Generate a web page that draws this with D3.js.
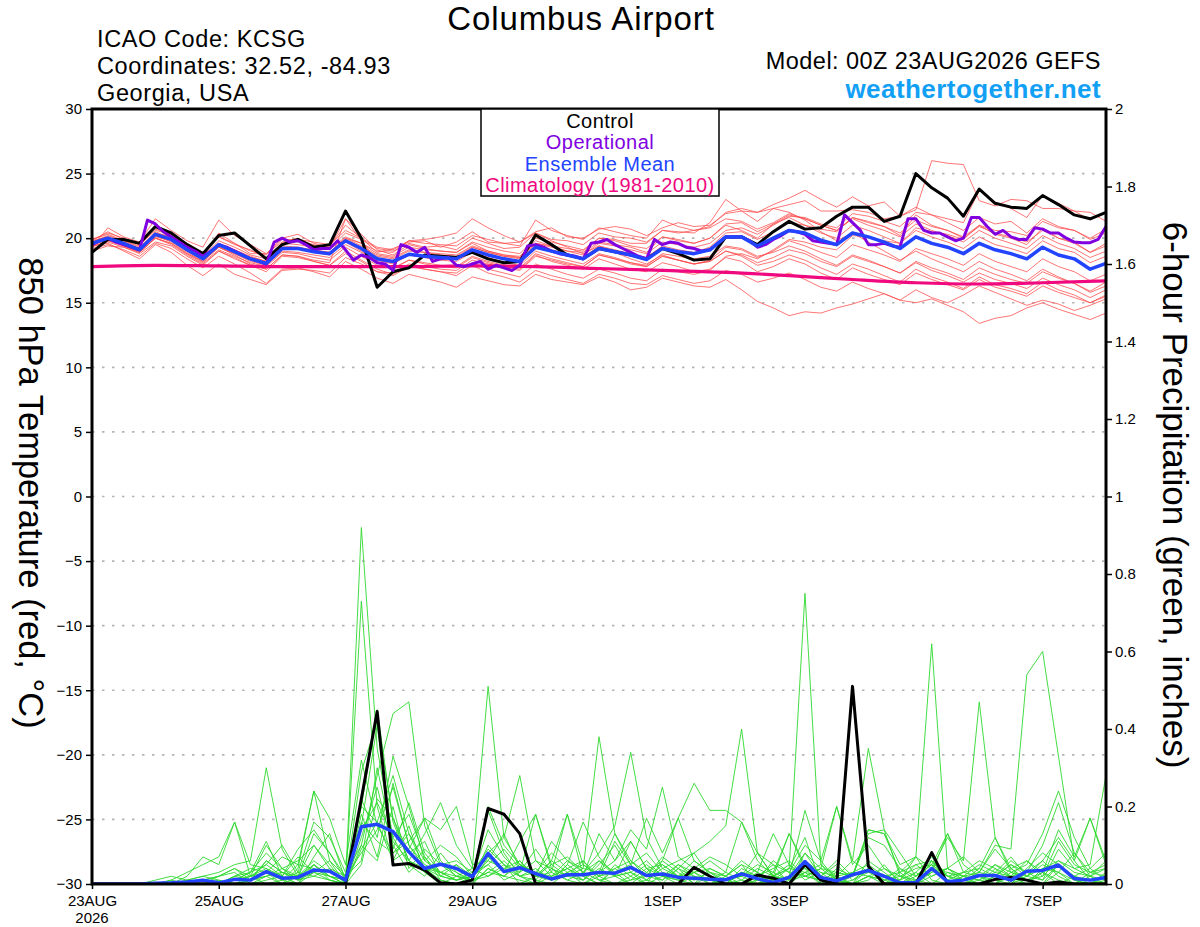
<!DOCTYPE html>
<html>
<head>
<meta charset="utf-8">
<script src="https://cdn.jsdelivr.net/npm/d3@7"></script>
<style>
  html, body { margin: 0; padding: 0; background: #fff; }
  svg { display: block; font-family: "Liberation Sans", Arial, Helvetica, sans-serif; }
</style>
</head>
<body>
<svg id="chart" width="1200" height="927"></svg>
<script>
// ---------------- DATA ----------------
const startDate = Date.UTC(2026, 7, 23); // 00Z 23AUG2026
const tempTicks = [-30, -25, -20, -15, -10, -5, 0, 5, 10, 15, 20, 25, 30];
const precipTicks = [0, 0.2, 0.4, 0.6, 0.8, 1, 1.2, 1.4, 1.6, 1.8, 2];
const dateTickDays = [0, 2, 4, 6, 9, 11, 13, 15];
const dateTickLabels = ["23AUG", "25AUG", "27AUG", "29AUG", "1SEP", "3SEP", "5SEP", "7SEP"];
const legendLabels = ["Control", "Operational", "Ensemble Mean", "Climatology (1981-2010)"];

// 850 hPa temperature, ensemble members (6-hourly, 65 steps)
const tMem01 = [19.8,20.5,19.9,19.5,20.9,20.2,19.6,18.6, 20.4,19.6,18.8,18.8,19.7,20.0,19.4,19.4, 21.0,20.0,18.9,19.2,19.7,19.8,19.3,19.7, 20.5,19.7,19.6,19.7,20.5,20.8,20.1,20.0, 20.7,20.9,20.7,20.2,20.8,21.2,20.9,21.0, 21.9,22.1,22.0,22.3,22.6,22.9,22.1,22.1, 22.2,22.0,21.5,21.7,22.2,26.0,25.8,25.7, 22.9,22.5,23.0,22.9,22.3,22.3,22.1,22.0,21.3];
const tMem02 = [19.9,20.3,19.8,19.4,20.7,20.3,19.5,18.9, 20.1,19.5,19.1,18.5,19.6,19.8,19.5,19.2, 20.4,19.9,19.2,19.0,19.6,19.3,19.4,19.1, 20.0,19.6,19.2,19.3,20.4,19.9,19.8,19.5, 20.4,20.1,20.0,19.7,20.6,20.4,20.6,20.9, 22.0,22.3,22.0,22.6,23.1,23.7,23.0,22.4, 23.2,22.5,22.8,21.7,22.4,21.8,21.2,20.6, 21.6,21.1,21.3,20.4,21.5,20.9,20.6,19.9,20.4];
const tMem03 = [19.3,20.8,20.1,19.7,21.5,20.6,19.8,19.3, 21.4,20.2,19.5,18.8,20.0,20.3,19.6,19.3, 21.5,20.3,19.1,18.7,19.5,19.2,19.0,18.9, 19.6,19.0,18.7,18.6,19.8,19.4,19.0,18.9, 19.7,19.5,19.3,18.9,20.1,19.8,19.6,20.0, 21.0,20.6,20.0,21.1,21.6,21.0,20.7,20.5, 21.6,21.2,20.9,20.2,21.8,21.0,20.6,20.1, 21.0,20.3,20.0,19.5,20.8,20.0,19.6,18.9,19.6];
const tMem04 = [19.2,19.5,19.1,18.6,19.6,19.2,18.4,17.7, 18.6,18.0,17.3,16.5,17.6,17.7,17.4,17.0, 18.2,17.6,16.9,16.5,17.2,16.9,16.6,16.2, 17.0,16.7,16.4,16.3,17.2,16.8,16.6,16.4, 17.0,16.6,16.0,16.2,16.9,16.6,16.3,16.2, 16.8,16.0,15.1,14.6,14.0,14.3,14.2,14.6, 14.9,15.3,15.7,15.2,15.0,15.3,14.8,14.3, 13.4,13.8,14.0,14.6,15.0,14.5,14.1,13.7,14.2];
const tMem05 = [19.0,19.4,19.3,18.8,19.7,19.4,18.6,17.9, 19.0,18.4,17.9,17.4,18.6,18.5,18.2,17.9, 19.0,18.3,17.6,17.2,17.9,17.6,17.4,17.1, 17.9,17.3,17.0,16.6,17.5,17.1,16.8,16.5, 17.2,16.9,16.5,16.4,17.1,16.8,16.5,16.7, 17.5,17.2,16.6,16.9,17.3,16.8,16.2,15.9, 16.6,16.1,15.7,15.2,16.0,15.4,15.0,15.6, 16.3,15.8,15.3,14.8,15.2,14.9,14.4,14.8,15.3];
const tMem06 = [19.4,19.7,19.3,18.9,20.0,19.6,18.8,18.1, 19.1,18.6,18.1,17.8,18.9,18.8,18.5,18.3, 19.3,18.6,17.9,17.7,18.3,18.0,17.8,17.7, 18.5,18.1,17.8,17.6,18.7,18.2,17.9,17.6, 18.4,18.0,17.6,17.4,18.1,17.8,17.4,17.6, 18.5,18.2,17.4,17.8,18.4,18.0,17.3,16.8, 17.7,17.2,16.8,16.4,17.3,16.8,16.4,16.0, 16.8,16.2,15.9,15.5,16.3,15.8,15.4,15.0,15.6];
const tMem07 = [19.7,20.2,19.8,19.3,20.4,20.1,19.3,18.6, 19.8,19.3,18.7,18.4,19.6,19.5,19.3,19.1, 20.1,19.6,18.8,18.6,19.3,19.1,19.0,18.9, 19.7,19.3,19.0,18.8,20.0,19.7,19.4,19.1, 20.0,19.8,19.4,19.2,20.1,19.9,19.6,20.0, 21.1,21.2,20.5,21.1,21.8,21.5,21.0,20.6, 21.6,21.3,20.9,20.4,21.4,20.9,20.6,20.0, 20.9,20.4,20.1,19.7,20.6,20.0,19.7,18.9,19.4];
const tMem08 = [19.8,20.1,19.5,19.0,20.1,19.8,19.0,18.3, 19.3,18.8,18.2,17.9,19.0,18.9,18.7,18.5, 19.5,18.9,18.3,18.0,18.7,18.5,18.4,18.4, 19.3,18.9,18.6,18.5,19.6,19.4,19.2,19.0, 20.0,19.9,19.6,19.6,20.6,20.5,20.4,21.2, 23.0,22.1,21.3,22.3,22.0,21.4,20.5,19.8, 20.4,19.7,19.0,18.3,19.0,18.4,17.9,17.4, 18.2,17.6,17.2,16.7,17.6,17.0,16.5,15.8,16.3];
const tMem09 = [19.5,19.8,19.4,19.0,20.2,19.7,18.9,18.2, 19.3,18.7,18.0,17.6,18.7,18.6,18.2,17.9, 18.8,18.2,17.4,17.1,17.8,17.6,17.4,17.3, 18.1,17.6,17.3,17.0,18.0,17.6,17.2,16.9, 17.6,17.3,16.9,16.7,17.6,17.4,17.2,17.5, 18.6,18.8,18.4,19.1,19.9,19.7,19.3,19.1, 20.2,20.1,19.8,19.6,20.8,20.5,20.3,19.9, 21.0,20.6,20.5,20.2,21.3,20.8,20.6,20.0,20.7];
const tMem10 = [19.6,20.1,19.7,19.2,20.5,20.0,19.3,18.5, 19.6,19.1,18.6,18.2,19.4,19.3,19.1,18.9, 20.0,19.4,18.7,18.5,19.1,18.9,18.8,18.7, 19.4,19.0,18.7,18.5,19.6,19.3,19.0,18.7, 19.6,19.4,19.1,18.8,19.7,19.5,19.3,19.6, 20.6,20.8,20.3,21.0,21.7,21.6,21.1,20.8, 21.9,21.7,21.3,20.9,22.0,21.8,21.5,21.2, 23.7,22.8,22.3,21.6,23.3,22.7,22.1,21.4,22.0];
const tMem11 = [19.7,20.0,19.7,19.2,20.3,19.9,19.2,18.5, 19.5,19.1,18.5,18.2,19.3,19.2,18.9,18.7, 19.7,19.0,18.3,18.1,18.7,18.5,18.3,18.2, 18.9,18.5,18.1,17.9,19.0,18.6,18.3,18.0, 18.8,18.5,18.1,17.8,18.6,18.3,18.0,18.2, 19.0,18.6,17.9,18.2,18.7,18.3,17.7,17.2, 18.0,17.6,17.1,16.6,17.6,17.0,16.6,16.1, 17.0,16.4,16.1,15.7,16.6,16.0,15.6,15.0,15.5];
const tMem12 = [19.5,20.0,19.6,19.2,20.3,19.8,19.1,18.4, 19.6,19.0,18.5,18.2,19.2,19.3,19.0,18.9, 19.9,19.3,18.6,18.4,19.0,18.9,18.7,18.6, 19.3,18.9,18.6,18.4,19.5,19.1,18.8,18.5, 19.4,19.1,18.8,18.5,19.4,19.1,18.9,19.3, 20.4,20.5,19.9,20.5,21.2,21.0,20.4,20.0, 21.0,20.6,20.1,19.6,20.6,20.1,19.7,19.2, 20.1,19.5,19.2,18.8,19.8,19.2,18.9,18.1,18.6];
const tMem13 = [19.4,19.6,19.0,18.4,19.5,18.9,17.9,17.1, 18.0,17.2,16.8,16.4,17.5,17.6,17.5,17.3, 18.5,18.0,17.4,17.3,18.0,17.8,17.6,17.5, 18.3,18.0,17.7,17.5,18.6,18.3,18.0,17.8, 18.7,18.4,18.1,17.9,18.8,18.6,18.4,18.6, 19.4,19.2,18.6,18.9,19.4,19.0,18.4,17.9, 18.7,18.3,17.8,17.3,18.1,17.5,17.1,16.6, 17.3,16.8,16.5,16.1,16.9,16.4,16.0,15.4,16.0];
const tMem14 = [19.9,20.4,20.0,19.5,20.6,20.3,19.6,18.9, 20.1,19.6,19.0,18.7,19.9,19.9,19.7,19.5, 20.6,20.0,19.3,19.1,19.8,19.6,19.5,19.4, 20.2,19.9,19.6,19.4,21.4,20.6,20.2,19.9, 20.8,20.5,20.2,20.0,21.4,20.9,20.6,20.8, 21.5,21.3,20.7,21.2,21.9,21.5,21.0,20.6, 21.5,21.0,20.6,20.1,21.1,20.6,20.2,19.7, 20.6,20.0,19.6,19.2,20.2,19.6,19.2,18.5,19.0];
const tMem15 = [19.6,19.9,19.4,18.9,20.0,19.6,18.8,18.2, 19.3,18.8,18.3,18.0,19.1,19.2,19.0,18.9, 20.0,19.6,19.0,18.9,19.8,19.9,20.1,20.4, 21.5,20.8,20.2,19.7,20.4,19.8,19.3,18.8, 19.4,18.9,18.4,18.0,18.7,18.3,18.0,18.2, 19.0,18.7,18.1,18.5,19.1,18.8,18.2,17.8, 18.6,18.2,17.8,17.3,18.2,17.7,17.3,16.8, 17.7,17.2,16.8,16.5,17.4,16.9,16.5,15.9,16.6];
const tMem16 = [19.3,19.8,19.5,18.9,20.0,19.5,18.7,18.0, 19.0,18.5,17.9,17.6,18.7,18.6,18.3,18.1, 21.5,19.8,18.2,17.6,18.3,18.1,17.9,17.8, 18.6,18.2,17.9,17.7,18.8,18.4,18.1,17.8, 18.7,18.4,18.0,17.8,18.6,18.3,18.0,18.3, 19.3,19.1,18.5,19.0,19.8,19.4,18.9,18.5, 19.5,19.1,18.7,18.2,19.2,18.8,18.4,17.9, 18.8,18.2,17.8,17.4,18.4,17.8,17.4,16.7,17.2];
const tempMembers = [tMem01,tMem02,tMem03,tMem04,tMem05,tMem06,tMem07,tMem08,tMem09,tMem10,tMem11,tMem12,tMem13,tMem14,tMem15,tMem16];

// Control run temperature (6-hourly)
const tempControl = [18.9,19.9,19.9,19.6,20.9,20.4,19.5,18.8, 20.2,20.4,19.4,18.4,19.5,19.9,19.3,19.5, 22.1,20.0,16.2,17.4,17.7,18.7,18.6,18.5, 18.9,18.4,18.1,18.2,20.25,19.5,18.7,18.4, 19.2,18.95,18.7,18.4,19.2,18.8,18.3,18.4, 20.1,20.1,19.5,20.5,21.3,20.7,20.8,21.7, 22.4,22.4,21.3,21.7,25.0,23.9,23.1,21.7, 23.8,22.7,22.4,22.3,23.3,22.6,21.8,21.5,22.0];
// Operational run temperature (3-hourly, 129 steps)
const tempOper = [19.5,19.8,20.0,19.7,19.5,19.3,19.1,21.4, 21.1,20.5,20.1,19.7,19.3,19.0,18.6,19.0, 19.5,19.3,19.0,18.7,18.4,18.2,18.0,19.7, 20.0,19.7,19.8,19.5,19.1,19.2,19.2,19.8, 19.1,18.3,18.7,18.5,18.1,18.0,17.5,19.5, 19.3,18.9,19.3,18.2,18.4,18.5,17.9,17.8, 18.0,18.2,17.6,17.9,17.7,17.5,17.9,19.4, 19.5,19.3,19.0,18.8,18.7,18.6,18.4,19.6, 19.7,19.9,19.5,19.2,18.9,18.6,18.4,19.9, 19.5,19.7,19.6,19.3,19.2,19.0,19.1,19.6, 20.1,20.1,20.1,19.8,19.3,19.5,19.9,20.2, 20.6,20.5,20.3,19.8,19.7,19.6,19.5,21.8, 21.2,20.6,19.5,19.5,19.6,19.4,19.3,21.5, 21.5,20.6,20.4,20.4,20.1,19.8,20.0,21.6, 21.6,20.9,20.3,20.6,20.1,19.9,19.9,20.8, 20.7,20.4,20.4,20.0,19.7,19.65,19.65,19.9, 20.9];
// Ensemble mean temperature (6-hourly)
const tempMean = [19.6,20.0,19.6,19.1,20.3,19.9,19.1,18.4, 19.5,18.95,18.4,18.05,19.2,19.2,18.95,18.8, 19.8,19.2,18.4,18.2,18.75,18.6,18.5,18.4, 19.1,18.7,18.4,18.2,19.3,19.0,18.7,18.4, 19.2,18.95,18.7,18.35,19.2,18.95,18.8,19.1, 20.1,20.1,19.4,20.0,20.6,20.4,19.85,19.5, 20.4,20.1,19.7,19.2,20.1,19.6,19.3,18.8, 19.6,19.1,18.8,18.4,19.3,18.7,18.4,17.6,18.05];
// Climatology 1981-2010 (daily)
const tempClimo = [17.8,17.9,17.85,17.8,17.8,17.8,17.85,17.8,17.65,17.5,17.35,17.1,16.8,16.55,16.45,16.55,16.7];

// 6-hour precipitation, ensemble members (inches, 6-hourly)
const pMem01 = [0,0,0,0,0,0,0.01,0.02, 0.01,0,0,0.02,0.04,0.01,0.03,0.06, 0,0.92,0.35,0.12,0.05,0.02,0.08,0.03, 0,0.04,0.02,0.06,0.01,0,0.03,0.05, 0.02,0,0.01,0.04,0,0,0.02,0.01, 0,0,0.03,0,0,0.08,0.02,0, 0,0.04,0.01,0,0,0.06,0.01,0, 0.02,0,0.04,0.01,0,0.03,0,0.02,0];
const pMem02 = [0,0,0,0,0,0,0,0, 0,0.01,0.03,0.11,0.02,0,0.05,0.02, 0,0.73,0.2,0.06,0.15,0.03,0,0.02, 0.01,0.1,0.05,0,0.02,0.06,0.18,0.02, 0,0.05,0.02,0,0.06,0.03,0,0, 0.02,0.05,0,0.01,0.04,0.12,0,0.02, 0,0.01,0.05,0,0.03,0,0,0.02, 0,0.04,0,0.02,0.06,0.02,0,0,0.03];
const pMem03 = [0,0,0,0,0.01,0.02,0.01,0, 0.02,0.04,0.01,0.06,0.03,0.02,0.1,0.04, 0.02,0.2,0.45,0.16,0.06,0.04,0.02,0.05, 0,0.07,0.03,0.11,0.18,0.04,0.01,0, 0.03,0.13,0.05,0.01,0,0.04,0.08,0.02, 0,0.03,0.01,0,0.02,0.19,0.06,0.01, 0,0.02,0,0.03,0.07,0.01,0,0, 0.01,0.03,0.02,0,0,0.05,0.01,0,0];
const pMem04 = [0,0,0,0,0,0,0.02,0.07, 0.05,0.16,0.02,0,0.01,0.03,0.02,0.01, 0,0.1,0.28,0.44,0.47,0.15,0.05,0.03, 0.01,0.03,0.06,0.02,0,0.04,0.02,0.06, 0.01,0.02,0.11,0.04,0.02,0,0.03,0.01, 0,0.04,0.02,0.05,0,0.03,0,0.04, 0.02,0.14,0.13,0.03,0,0.02,0.04,0.01, 0,0,0.02,0.06,0.03,0.01,0,0.03,0.05];
const pMem05 = [0,0,0,0,0,0,0,0, 0,0,0.01,0.02,0,0.04,0.24,0.17, 0.05,0.32,0.15,0.08,0.11,0.17,0.06,0.02, 0.04,0.51,0.12,0.05,0.02,0.01,0.05,0.02, 0,0.04,0.01,0.02,0.07,0.04,0,0.02, 0.01,0,0.02,0.01,0.02,0.04,0,0.01, 0.03,0.05,0.02,0,0,0.04,0.02,0, 0,0.02,0.01,0,0.03,0,0.02,0.01,0];
const pMem06 = [0,0,0,0,0,0,0,0.01, 0.02,0.03,0,0.01,0.02,0,0.03,0.01, 0,0.15,0.41,0.1,0.03,0.07,0.01,0, 0.02,0.05,0.01,0.03,0.06,0.02,0.04,0.01, 0.06,0.02,0,0.03,0.01,0.05,0.02,0, 0,0.03,0.01,0.02,0.04,0.75,0.05,0.02, 0,0.06,0.03,0,0.02,0.05,0,0.02, 0.01,0,0.03,0.02,0.01,0.05,0.02,0,0.01];
const pMem07 = [0,0,0,0,0,0.01,0,0, 0,0.01,0.03,0.05,0.02,0.07,0.03,0.02, 0.01,0.22,0.12,0.33,0.2,0.06,0.03,0.01, 0.02,0.19,0.08,0.02,0.04,0.01,0.03,0.01, 0.05,0.1,0.03,0,0.02,0.01,0,0.04, 0.02,0,0.01,0.06,0.03,0.02,0.01,0, 0.02,0.04,0,0.01,0.07,0.62,0.04,0.02, 0.01,0.05,0.02,0,0.04,0.03,0.01,0,0.02];
const pMem08 = [0,0,0,0,0,0,0,0, 0,0.02,0.01,0.03,0,0.02,0.05,0.01, 0,0.18,0.07,0.26,0.1,0.04,0.01,0, 0,0.04,0.02,0.01,0,0.02,0.06,0.03, 0.01,0,0.02,0.05,0.02,0.01,0.03,0, 0.01,0.02,0,0.03,0.01,0.02,0.04,0.01, 0,0.02,0.01,0.02,0,0.03,0.04,0.02, 0.03,0.1,0.09,0.54,0.6,0.33,0.06,0.01,0.02];
const pMem09 = [0,0,0,0,0,0,0,0, 0.01,0,0.02,0.04,0.01,0,0.07,0.13, 0.01,0.29,0.42,0.17,0.08,0.11,0.02,0.01, 0.03,0.09,0.05,0.02,0.01,0.06,0.03,0, 0.02,0.03,0,0.01,0.05,0.02,0.01,0.03, 0,0.01,0.04,0.02,0.01,0.06,0.03,0, 0.01,0.03,0.02,0,0.01,0.04,0.12,0.06, 0.47,0.12,0.04,0.01,0.02,0.06,0.03,0.02,0.01];
const pMem10 = [0,0,0,0,0,0,0,0, 0,0,0.01,0.06,0.03,0.01,0.02,0.04, 0,0.12,0.25,0.09,0.21,0.08,0.03,0.05, 0.02,0.06,0.13,0.04,0.02,0.11,0.06,0.04, 0.38,0.13,0.06,0.02,0.01,0.04,0.02,0.01, 0.03,0.01,0,0.02,0.05,0.01,0.03,0.02, 0.06,0.35,0.14,0.02,0.01,0,0.03,0.01, 0,0.02,0.05,0.03,0.01,0.09,0.04,0.02,0.06];
const pMem11 = [0,0,0,0,0,0,0.01,0.02, 0.03,0.05,0.06,0.3,0.09,0.02,0.06,0.03, 0.01,0.2,0.16,0.28,0.13,0.04,0.03,0.02, 0.01,0.03,0.02,0.05,0.03,0.01,0.05,0.16, 0.07,0.02,0.03,0.01,0.04,0.06,0.08,0.11, 0.15,0.4,0.08,0.02,0.01,0.03,0.05,0.01, 0,0.02,0.01,0.04,0.02,0.06,0.01,0.03, 0.02,0.01,0,0.04,0.08,0.05,0.02,0.04,0.01];
const pMem12 = [0,0,0,0,0,0,0,0, 0,0.02,0.04,0.03,0.07,0.05,0.24,0.06, 0.02,0.06,0.3,0.11,0.06,0.03,0.05,0.02, 0.01,0.02,0.04,0.06,0.02,0.03,0.01,0.03, 0.08,0.15,0.34,0.12,0.04,0.02,0.06,0.03, 0.01,0.02,0.05,0.03,0.13,0.04,0.02,0.06, 0.02,0.13,0.14,0.08,0.02,0.05,0.13,0.03, 0.04,0.02,0.06,0.03,0.1,0.21,0.08,0.03,0.04];
const pMem13 = [0,0,0,0,0,0,0,0, 0,0.01,0.02,0.1,0.04,0.02,0.13,0.08, 0.01,0.14,0.21,0.12,0.18,0.07,0.02,0.01, 0.02,0.08,0.12,0.28,0.06,0.04,0.02,0.01, 0.04,0.02,0.03,0.06,0.02,0.05,0.03,0.04, 0.02,0.06,0.03,0.01,0.02,0.08,0.04,0.2, 0.06,0.03,0.02,0.01,0.03,0.07,0.02,0.01, 0.03,0.02,0.05,0.02,0.04,0.06,0.04,0.05,0.28];
const pMem14 = [0,0,0,0,0,0.01,0.03,0.05, 0.07,0.16,0.05,0.04,0.02,0.09,0.14,0.08, 0.02,0.08,0.14,0.25,0.1,0.05,0.03,0.01, 0.02,0.14,0.07,0.03,0.18,0.05,0.02,0.04, 0.03,0.06,0.14,0.09,0.25,0.07,0.04,0.02, 0.01,0.03,0.02,0.04,0.06,0.02,0.01,0.03, 0.02,0.12,0.1,0.04,0.01,0.03,0.13,0.05, 0.02,0.05,0.03,0.01,0.03,0.14,0.07,0.17,0.05];
const pMem15 = [0,0,0,0,0,0,0,0, 0,0.02,0.03,0.08,0.04,0.06,0.1,0.05, 0,0.05,0.22,0.17,0.06,0.13,0.21,0.1, 0.04,0.02,0.05,0.03,0.09,0.03,0.18,0.05, 0.02,0.04,0.06,0.03,0.06,0.17,0.26,0.19, 0.19,0.16,0.06,0.02,0.04,0.03,0.02,0.05, 0.01,0.04,0.02,0.03,0.05,0.02,0.04,0.07, 0.03,0.09,0.04,0.06,0.02,0.11,0.05,0.03,0.02];
const pMem16 = [0,0,0,0,0,0,0,0, 0,0,0.01,0.02,0.03,0.01,0.05,0.02, 0,0.09,0.16,0.06,0.09,0.17,0.14,0.2, 0.05,0.06,0.04,0.02,0.03,0.08,0.04,0.02, 0.13,0.06,0.11,0.04,0.05,0.02,0.03,0.06, 0.03,0.16,0.08,0.02,0.13,0.05,0.01,0.02, 0.03,0.02,0.04,0.01,0.05,0.06,0.02,0.01, 0.04,0.12,0.03,0.05,0.13,0.24,0.12,0.04,0.08];
const pMem17 = [0,0,0,0,0,0,0,0.01, 0.02,0.04,0.02,0.05,0.1,0.03,0.16,0.12, 0.03,0.1,0.06,0.2,0.04,0.09,0.05,0.06, 0.03,0.05,0.09,0.04,0.02,0.05,0.07,0.03, 0.06,0.03,0.05,0.08,0.03,0.02,0.04,0.07, 0.05,0.02,0.08,0.05,0.03,0.1,0.06,0.2, 0.05,0.1,0.04,0.02,0.04,0.05,0.02,0.03, 0.06,0.04,0.02,0.03,0.06,0.12,0.06,0.17,0.06];
const pMem18 = [0,0,0,0,0,0,0,0, 0,0.01,0.02,0.03,0.01,0.05,0.04,0.02, 0.01,0.16,0.11,0.08,0.13,0.06,0.1,0.07, 0.02,0.2,0.1,0.05,0.03,0.02,0.04,0.06, 0.02,0.11,0.05,0.17,0.08,0.17,0.06,0.03, 0.02,0.05,0.03,0.13,0.05,0.02,0.04,0.03, 0.02,0.14,0.13,0.05,0.07,0.04,0.03,0.02, 0.05,0.03,0.07,0.02,0.05,0.03,0.08,0.02,0.04];
const precipMembers = [pMem01,pMem02,pMem03,pMem04,pMem05,pMem06,pMem07,pMem08,pMem09,pMem10,pMem11,pMem12,pMem13,pMem14,pMem15,pMem16,pMem17,pMem18];

// Control precipitation
const precipControl = [0,0,0,0,0,0,0,0, 0,0,0,0,0,0,0,0, 0,0.22,0.445,0.049,0.053,0.036,0.003,0, 0.01,0.195,0.18,0.13,0,0,0,0, 0,0,0,0,0,0,0.043,0.02, 0,0,0.023,0.015,0,0.05,0.01,0, 0.51,0.046,0,0,0,0.081,0,0, 0,0.012,0.017,0.01,0,0.005,0,0,0];
// Ensemble mean precipitation
const precipMean = [0,0,0,0,0.002,0.003,0.005,0.01, 0.003,0.012,0.01,0.032,0.015,0.017,0.036,0.033, 0.01,0.148,0.154,0.135,0.083,0.04,0.051,0.04, 0.019,0.079,0.032,0.042,0.027,0.013,0.024,0.024, 0.03,0.028,0.043,0.022,0.026,0.017,0.015,0.012, 0.011,0.026,0.014,0.004,0.017,0.058,0.017,0.008, 0.024,0.035,0.02,0.003,0.004,0.04,0.006,0.01, 0.022,0.022,0.01,0.033,0.035,0.049,0.014,0.01,0.017];

// ---------------- CHART ----------------
const M = { left: 92, right: 1106, top: 109, bottom: 884 };
const svg = d3.select("#chart");
const HOUR = 3600e3;

const x = d3.scaleUtc().domain([new Date(startDate), new Date(startDate + 16 * 24 * HOUR)]).range([M.left, M.right]);
const yT = d3.scaleLinear().domain([-30, 30]).range([M.bottom, M.top]);
const yP = d3.scaleLinear().domain([0, 2]).range([M.bottom, M.top]);

const t6 = i => new Date(startDate + i * 6 * HOUR);
const t3 = i => new Date(startDate + i * 3 * HOUR);
const t24 = i => new Date(startDate + i * 24 * HOUR);

svg.append("defs").append("clipPath").attr("id", "plotclip")
  .append("rect").attr("x", M.left).attr("y", M.top).attr("width", M.right - M.left).attr("height", M.bottom - M.top);

// grid
svg.append("g").selectAll("line").data(tempTicks.filter(d => d > -30 && d < 30)).join("line")
  .attr("x1", M.left).attr("x2", M.right)
  .attr("y1", d => yT(d)).attr("y2", d => yT(d))
  .attr("stroke", "#b4b4b4").attr("stroke-width", 1.6).attr("stroke-dasharray", "2.5 7.5");

const plot = svg.append("g").attr("clip-path", "url(#plotclip)");
const lineT6 = d3.line().x((d, i) => x(t6(i))).y(d => yT(d));
const lineT3 = d3.line().x((d, i) => x(t3(i))).y(d => yT(d));
const lineT24 = d3.line().x((d, i) => x(t24(i))).y(d => yT(d)).curve(d3.curveMonotoneX);
const lineP6 = d3.line().x((d, i) => x(t6(i))).y(d => yP(d));

plot.append("g").selectAll("path").data(tempMembers).join("path")
  .attr("d", lineT6).attr("fill", "none").attr("stroke", "#ff4a4a").attr("stroke-opacity", 0.85).attr("stroke-width", 0.9);
plot.append("g").selectAll("path").data(precipMembers).join("path")
  .attr("d", lineP6).attr("fill", "none").attr("stroke", "#2fd92f").attr("stroke-width", 0.9);

plot.append("path").datum(tempClimo).attr("d", lineT24).attr("fill", "none").attr("stroke", "#f0087f").attr("stroke-width", 3.2);
plot.append("path").datum(tempControl).attr("d", lineT6).attr("fill", "none").attr("stroke", "#000").attr("stroke-width", 3).attr("stroke-linejoin", "round");
plot.append("path").datum(tempOper).attr("d", lineT3).attr("fill", "none").attr("stroke", "#8000e0").attr("stroke-width", 3).attr("stroke-linejoin", "round");
plot.append("path").datum(tempMean).attr("d", lineT6).attr("fill", "none").attr("stroke", "#2244ff").attr("stroke-width", 3.5).attr("stroke-linejoin", "round");
plot.append("path").datum(precipControl).attr("d", lineP6).attr("fill", "none").attr("stroke", "#000").attr("stroke-width", 3).attr("stroke-linejoin", "round");
plot.append("path").datum(precipMean).attr("d", lineP6).attr("fill", "none").attr("stroke", "#2244ff").attr("stroke-width", 3.5).attr("stroke-linejoin", "round");

// axes
const axL = svg.append("g").attr("transform", `translate(${M.left},0)`)
  .call(d3.axisLeft(yT).tickValues(tempTicks).tickSize(6).tickPadding(4).tickFormat(d3.format("d")));
const axR = svg.append("g").attr("transform", `translate(${M.right},0)`)
  .call(d3.axisRight(yP).tickValues(precipTicks).tickSize(6).tickPadding(3).tickFormat(d => (Number.isInteger(d) ? String(d) : d3.format(".1f")(d))));
const axB = svg.append("g").attr("transform", `translate(0,${M.bottom})`)
  .call(d3.axisBottom(x).tickValues(dateTickDays.map(t24)).tickSize(5).tickPadding(6).tickFormat((d, i) => dateTickLabels[i]));
[axL, axR, axB].forEach(a => {
  a.select(".domain").remove();
  a.selectAll(".tick line").attr("stroke", "#000").attr("stroke-width", 1.5);
  a.selectAll(".tick text").attr("fill", "#000").attr("font-size", 15).attr("font-family", "Liberation Sans, Arial, sans-serif");
});
axB.append("text").attr("x", x(t24(0))).attr("y", 39).attr("text-anchor", "middle")
  .attr("font-size", 15).attr("fill", "#000").attr("font-family", "Liberation Sans, Arial, sans-serif").text("2026");

// frame
svg.append("rect").attr("x", M.left).attr("y", M.top).attr("width", M.right - M.left).attr("height", M.bottom - M.top)
  .attr("fill", "none").attr("stroke", "#000").attr("stroke-width", 3);

// legend
const lg = svg.append("g");
lg.append("rect").attr("x", 481).attr("y", M.top).attr("width", 238).attr("height", 87)
  .attr("fill", "#fff").attr("stroke", "#000").attr("stroke-width", 1.5);
const legendColors = ["#000", "#8000e0", "#2244ff", "#f0087f"];
lg.selectAll("text.lg").data(legendLabels).join("text").attr("class", "lg")
  .attr("x", 600).attr("y", (d, i) => 128 + i * 21.3).attr("text-anchor", "middle")
  .attr("font-size", 20).attr("letter-spacing", 0.45).attr("fill", (d, i) => legendColors[i]).text(d => d);

// titles
svg.append("text").attr("x", 581).attr("y", 30).attr("text-anchor", "middle").attr("font-size", 33)
  .attr("letter-spacing", 0.9).text("Columbus Airport");
const infoLeft = ["ICAO Code: KCSG", "Coordinates: 32.52, -84.93", "Georgia, USA"];
svg.selectAll("text.il").data(infoLeft).join("text").attr("class", "il")
  .attr("x", 97).attr("y", (d, i) => 47 + i * 27).attr("font-size", 23.5).attr("letter-spacing", 0.6).text(d => d);
svg.append("text").attr("x", 1101).attr("y", 69).attr("text-anchor", "end").attr("font-size", 23.5)
  .attr("letter-spacing", 0.45).text("Model: 00Z 23AUG2026 GEFS");
svg.append("text").attr("x", 1101).attr("y", 98).attr("text-anchor", "end").attr("font-size", 26).attr("font-weight", "bold")
  .attr("letter-spacing", 0.45).attr("fill", "#12a0f5").text("weathertogether.net");

// axis titles
svg.append("text").attr("transform", "translate(31,493) rotate(90)").attr("text-anchor", "middle")
  .attr("dominant-baseline", "central").attr("font-size", 34.5).text("850 hPa Temperature (red, \u00B0C)");
svg.append("text").attr("transform", "translate(1175,495) rotate(90)").attr("text-anchor", "middle")
  .attr("dominant-baseline", "central").attr("font-size", 35).text("6-hour Precipitation (green, inches)");
</script>
</body>
</html>
